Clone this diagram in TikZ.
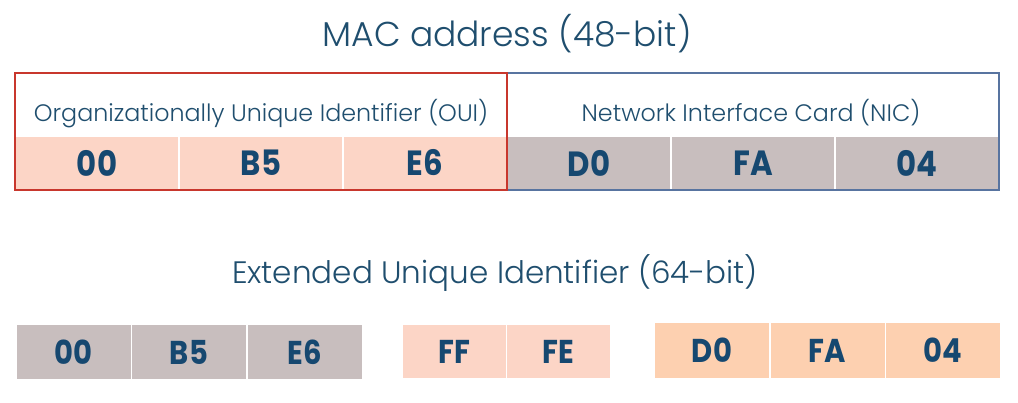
\documentclass[tikz,border=0pt]{standalone}
\usepackage{fontspec}
\setmainfont{Poppins}
\newfontfamily\lightfont{Poppins}[UprightFont=* Light]
\usetikzlibrary{positioning}
\definecolor{titleblue}{RGB}{31,78,110}
\definecolor{numblue}{RGB}{22,72,112}
\definecolor{ouipink}{RGB}{252,213,198}
\definecolor{nicgray}{RGB}{200,190,190}
\definecolor{peach}{RGB}{253,208,176}
\definecolor{ouired}{RGB}{200,55,45}
\definecolor{nicblue}{RGB}{88,116,160}
\newcommand{\hexbyte}[1]{\scalebox{0.88}[1]{#1}}
\tikzset{
  byte/.style={draw=white,line width=1.5pt,inner sep=0pt,outer sep=0pt,text=numblue,
    font=\fontsize{33}{35}\selectfont\bfseries},
  macbyte/.style={byte,minimum width=164pt,minimum height=54pt,
    font=\fontsize{35}{37}\selectfont\bfseries},
  euibyte/.style={byte,minimum width=115.5pt,minimum height=56pt},
  fillbyte/.style={byte,minimum width=104.5pt,minimum height=55pt,fill=ouipink},
  title/.style={anchor=base,text=titleblue},
  fieldname/.style={anchor=base,text=titleblue,font=\lightfont\fontsize{23.8}{26}\selectfont}
}
\begin{document}
\begin{tikzpicture}[x=1pt,y=-1pt]
	\useasboundingbox (0,0) rectangle (1018,402);
	% MAC address
	\node[title,font=\lightfont\fontsize{34.5}{36}\selectfont] (mac) at (507,46) {MAC address (48-bit)};
	\node[macbyte,fill=ouipink] (oui1) at (97,163) {\hexbyte{00}};
	\node[macbyte,fill=ouipink,right=0pt of oui1] (oui2) {\hexbyte{B5}};
	\node[macbyte,fill=ouipink,right=0pt of oui2] (oui3) {\hexbyte{E6}};
	\node[macbyte,fill=nicgray,right=0pt of oui3] (nic1) {\hexbyte{D0}};
	\node[macbyte,fill=nicgray,right=0pt of nic1] (nic2) {\hexbyte{FA}};
	\node[macbyte,fill=nicgray,right=0pt of nic2] (nic3) {\hexbyte{04}};
	\coordinate (ouitop) at (15,73);
	\coordinate (nictop) at (999,73);
	\node[fieldname] (ouiname) at (261,121) {Organizationally Unique Identifier (OUI)};
	\node[fieldname] (nicname) at (751,121) {Network Interface Card (NIC)};
	\draw[nicblue,line width=1.5pt] (nic1.south west) rectangle (nictop);
	\draw[ouired,line width=1.5pt] (ouitop) rectangle (oui3.south east);
	% EUI-64
	\node[title,font=\lightfont\fontsize{31}{33}\selectfont] (eui) at (495,283) {Extended Unique Identifier (64-bit)};
	\node[euibyte,fill=nicgray] (eui1) at (73.5,352) {\hexbyte{00}};
	\node[euibyte,fill=nicgray,right=0pt of eui1] (eui2) {\hexbyte{B5}};
	\node[euibyte,fill=nicgray,right=0pt of eui2] (eui3) {\hexbyte{E6}};
	\node[fillbyte] (ff) at (454,351.5) {\hexbyte{FF}};
	\node[fillbyte,right=0pt of ff] (fe) {\hexbyte{FE}};
	\node[euibyte,fill=peach] (eui4) at (712,350.5) {\hexbyte{D0}};
	\node[euibyte,fill=peach,right=0pt of eui4] (eui5) {\hexbyte{FA}};
	\node[euibyte,fill=peach,right=0pt of eui5] (eui6) {\hexbyte{04}};
\end{tikzpicture}
\end{document}
